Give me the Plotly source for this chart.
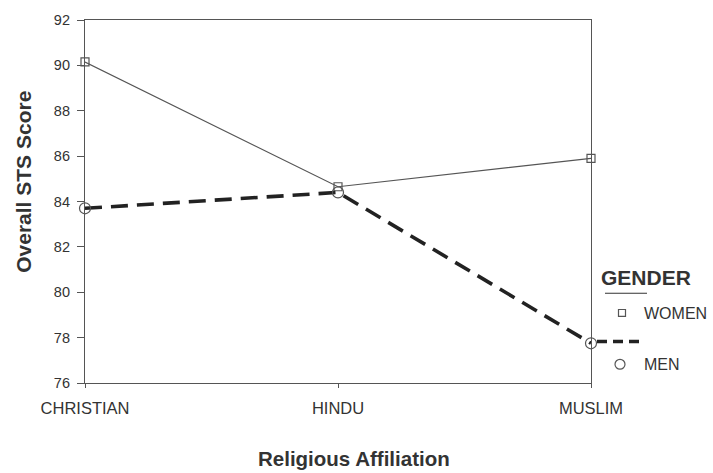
import plotly.graph_objects as go

categories = ["CHRISTIAN", "HINDU", "MUSLIM"]
women = [90.15, 84.65, 85.9]
men = [83.7, 84.4, 77.75]
y_ticks = [76, 78, 80, 82, 84, 86, 88, 90, 92]

W, H = 713, 473
L, R, T, B = 85, 591, 15, 383
pw, ph = R - L, B - T

def px(x):
    return (x - L) / pw

def py(y):
    return (B - y) / ph

FONT = "Arial, Liberation Sans, Helvetica, sans-serif"
DARK = "#333333"
LINE = "#555555"

xpos = list(range(len(categories)))

fig = go.Figure()
fig.add_trace(go.Scatter(
    x=xpos, y=women, mode="lines+markers", name="WOMEN",
    line=dict(color=LINE, width=1.2),
    marker=dict(symbol="square-open", size=8, color=LINE, line=dict(width=1.2)),
    cliponaxis=False, showlegend=False))
fig.add_trace(go.Scatter(
    x=xpos, y=men, mode="lines+markers", name="MEN",
    line=dict(color="#222222", width=3.6, dash="17px,9px"),
    marker=dict(symbol="circle-open", size=11, color=LINE, line=dict(width=1.2)),
    cliponaxis=False, showlegend=False))

fig.update_layout(
    width=W, height=H,
    margin=dict(l=L, r=W - R, t=T, b=H - B, pad=0),
    paper_bgcolor="white", plot_bgcolor="white",
    font=dict(family=FONT, color=DARK),
    xaxis=dict(
        range=[0, len(categories) - 1], tickvals=xpos, ticktext=categories,
        showline=True, linecolor=LINE, linewidth=1.2, mirror=True,
        ticks="outside", ticklen=4, tickcolor=LINE, showgrid=False, zeroline=False,
        tickfont=dict(size=16.5, family=FONT, color=DARK), ticklabelstandoff=6),
    yaxis=dict(
        range=[76, 92], tickvals=y_ticks,
        showline=True, linecolor=LINE, linewidth=1.2, mirror=True,
        ticks="outside", ticklen=7, tickcolor=LINE, showgrid=False, zeroline=False,
        tickfont=dict(size=14.5, family=FONT, color=DARK), ticklabelstandoff=4),
    showlegend=False,
)

annotations = [
    dict(text="<b>Overall STS Score</b>", x=px(24), y=py(179), xref="paper", yref="paper",
         textangle=-90, showarrow=False, font=dict(size=21, color=DARK, family=FONT),
         xanchor="center", yanchor="middle"),
    dict(text="<b>Religious Affiliation</b>", x=px(354), y=py(460), xref="paper", yref="paper",
         showarrow=False, font=dict(size=20.5, color=DARK, family=FONT),
         xanchor="center", yanchor="middle"),
    dict(text="<b>GENDER</b>", x=px(599), y=py(276), xref="paper", yref="paper",
         showarrow=False, font=dict(size=21, color=DARK, family=FONT),
         xanchor="left", yanchor="middle"),
    dict(text="WOMEN", x=px(642), y=py(313), xref="paper", yref="paper",
         showarrow=False, font=dict(size=16, color=DARK, family=FONT),
         xanchor="left", yanchor="middle"),
    dict(text="MEN", x=px(642), y=py(364), xref="paper", yref="paper",
         showarrow=False, font=dict(size=16, color=DARK, family=FONT),
         xanchor="left", yanchor="middle"),
]
fig.update_layout(annotations=annotations)

shapes = [
    dict(type="line", xref="paper", yref="paper", x0=px(605), x1=px(647), y0=py(292), y1=py(292),
         line=dict(color=DARK, width=1.2)),
    dict(type="rect", xref="paper", yref="paper", x0=px(618.5), x1=px(625.5), y0=py(315.5), y1=py(308.5),
         line=dict(color=LINE, width=1.2)),
    dict(type="line", xref="paper", yref="paper", x0=px(597), x1=px(640), y0=py(341), y1=py(341),
         line=dict(color="#222222", width=3.6, dash="10px,6px")),
    dict(type="circle", xref="paper", yref="paper", x0=px(615), x1=px(625), y0=py(369), y1=py(359),
         line=dict(color=LINE, width=1.2)),
]
fig.update_layout(shapes=shapes)

fig.write_html("out.html", config={"displayModeBar": False})

# remove the browser's default page margin so the figure sits at the window's top-left
with open("out.html", "r", encoding="utf-8") as f:
    html = f.read()
html = html.replace("<head>", "<head><style>html,body{margin:0;padding:0;overflow:hidden;}</style>", 1)
with open("out.html", "w", encoding="utf-8") as f:
    f.write(html)
